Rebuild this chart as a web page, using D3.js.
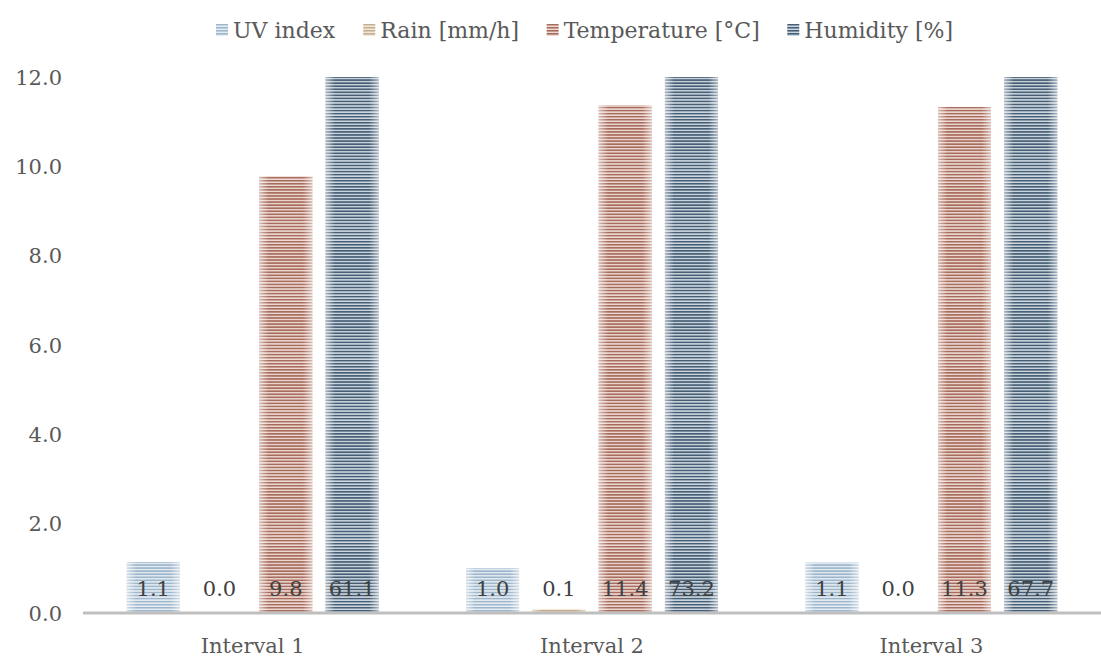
<!DOCTYPE html>
<html>
<head>
<meta charset="utf-8">
<script src="https://cdn.jsdelivr.net/npm/d3@7/dist/d3.min.js"></script>
<style>
  html, body { margin: 0; padding: 0; background: #ffffff; }
  svg { display: block; }
  text { font-family: "DejaVu Serif", "Liberation Serif", serif; }
</style>
</head>
<body>
<svg id="chart" width="1101" height="664"></svg>
<script>
// Weather readings per interval
const categories = ["Interval 1", "Interval 2", "Interval 3"];
const seriesNames = ["UV index", "Rain [mm/h]", "Temperature [°C]", "Humidity [%]"];
const uvIndex = [1.14, 1.0, 1.13];
const rain = [0.0, 0.09, 0.0];
const temperature = [9.78, 11.37, 11.33];
const humidity = [61.1, 73.2, 67.7];
const yTicks = [0, 2, 4, 6, 8, 10, 12];

// stripe colours: [dark stripe, light stripe]
const palette = [
  ["#9db6cb", "#e6edf3"],
  ["#c6ae8c", "#f1e9de"],
  ["#a86c5c", "#eddad4"],
  ["#465f76", "#cfd8e0"]
];

const seriesValues = [uvIndex, rain, temperature, humidity];

const W = 1101, H = 664;
const margin = { top: 77, right: 0, bottom: 51, left: 83 };
const svg = d3.select("#chart");

const x0 = d3.scaleBand().domain(categories).range([margin.left, W]).paddingInner(0).paddingOuter(0);
const x1 = d3.scaleBand().domain(seriesNames).range([0, x0.bandwidth()]).paddingInner(0.2).paddingOuter(0.66);
const y = d3.scaleLinear().domain([0, 12]).range([H - margin.bottom, margin.top]);

const defs = svg.append("defs");
palette.forEach((c, i) => {
  const p = defs.append("pattern")
    .attr("id", "stripe" + i)
    .attr("patternUnits", "userSpaceOnUse")
    .attr("width", 8).attr("height", 3.05);
  p.append("rect").attr("width", 8).attr("height", 3.05).attr("fill", c[1]);
  p.append("rect").attr("width", 8).attr("height", 1.6).attr("fill", c[0]);
});
// soft light edges on each bar
const g = defs.append("linearGradient").attr("id", "edgeGlow").attr("x1", 0).attr("x2", 1).attr("y1", 0).attr("y2", 0);
[[0, 0.55], [0.18, 0], [0.82, 0], [1, 0.55]].forEach(([o, a]) => {
  g.append("stop").attr("offset", o).attr("stop-color", "#ffffff").attr("stop-opacity", a);
});
defs.append("clipPath").attr("id", "plotClip")
  .append("rect").attr("x", margin.left).attr("y", margin.top)
  .attr("width", W - margin.left).attr("height", H - margin.bottom - margin.top);

const fontSize = 21;

// y axis labels
svg.append("g").selectAll("text").data(yTicks).join("text")
  .attr("x", 62).attr("y", d => y(d)).attr("dy", "0.36em")
  .attr("text-anchor", "end").attr("font-size", fontSize).attr("fill", "#595959")
  .text(d => d3.format(".1f")(d));

// bars
const rows = [];
categories.forEach((cat, ci) => {
  seriesNames.forEach((s, si) => rows.push({ cat, s, si, v: seriesValues[si][ci] }));
});
const bars = svg.append("g").attr("clip-path", "url(#plotClip)");
const bx = d => x0(d.cat) + x1(d.s);
bars.selectAll("rect.bar").data(rows).join("rect").attr("class", "bar")
  .attr("x", bx).attr("width", x1.bandwidth())
  .attr("y", d => y(d.v)).attr("height", d => Math.max(0, y(0) - y(d.v)))
  .attr("fill", d => `url(#stripe${d.si})`);
bars.selectAll("rect.glow").data(rows).join("rect").attr("class", "glow")
  .attr("x", bx).attr("width", x1.bandwidth())
  .attr("y", d => y(d.v)).attr("height", d => Math.max(0, y(0) - y(d.v)))
  .attr("fill", "url(#edgeGlow)");

// x axis line
svg.append("line")
  .attr("x1", margin.left).attr("x2", W)
  .attr("y1", y(0)).attr("y2", y(0))
  .attr("stroke", "#bfbfbf").attr("stroke-width", 3);

// value labels near the base of each bar
svg.append("g").selectAll("text").data(rows).join("text")
  .attr("x", d => bx(d) + x1.bandwidth() / 2).attr("y", y(0) - 25).attr("dy", "0.36em")
  .attr("text-anchor", "middle").attr("font-size", fontSize).attr("fill", "#404040")
  .text(d => d3.format(".1f")(d.v));

// category labels
svg.append("g").selectAll("text").data(categories).join("text")
  .attr("x", d => x0(d) + x0.bandwidth() / 2).attr("y", 645).attr("dy", "0.36em")
  .attr("text-anchor", "middle").attr("font-size", fontSize).attr("fill", "#595959")
  .text(d => d);

// legend
const legend = svg.append("g");
const items = legend.selectAll("g").data(seriesNames).join("g");
items.append("rect").attr("width", 12).attr("height", 12).attr("y", -6)
  .attr("fill", (d, i) => `url(#stripe${i})`);
items.append("text").attr("x", 17).attr("dy", "0.36em")
  .attr("font-size", 22).attr("fill", "#595959").text(d => d);
const widths = [];
items.each(function () { widths.push(this.getBBox().width); });
const legendLeft = 216, legendRight = 953;
const gap = (legendRight - legendLeft - d3.sum(widths)) / (widths.length - 1);
let start = legendLeft;
items.attr("transform", (d, i) => {
  const t = `translate(${start},30)`;
  start += widths[i] + gap;
  return t;
});
</script>
</body>
</html>
